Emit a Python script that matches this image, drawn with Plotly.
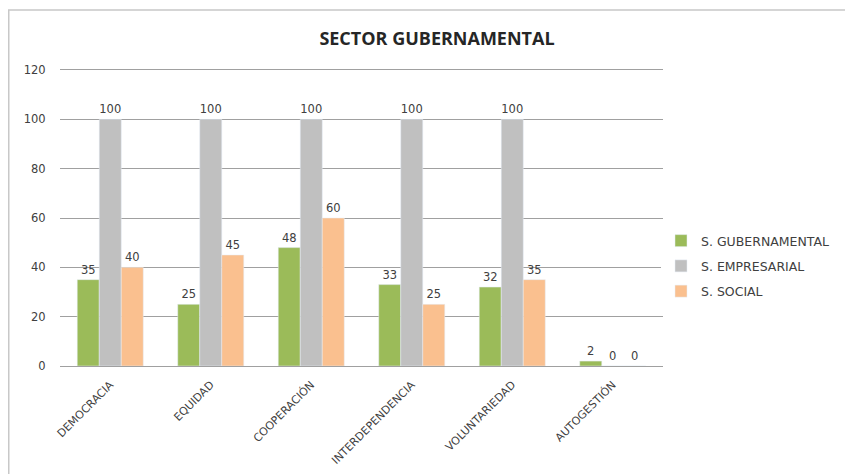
import plotly.graph_objects as go

categories = ["DEMOCRACIA", "EQUIDAD", "COOPERACIÓN", "INTERDEPENDENCIA", "VOLUNTARIEDAD", "AUTOGESTIÓN"]
s_gubernamental = [35, 25, 48, 33, 32, 2]
s_empresarial = [100, 100, 100, 100, 100, 0]
s_social = [40, 45, 60, 25, 35, 0]
series_names = ["S. GUBERNAMENTAL", "S. EMPRESARIAL", "S. SOCIAL"]
colors = ["#9BBB59", "#C0C0C0", "#FAC08F"]
y_ticks = [0, 20, 40, 60, 80, 100, 120]

FONT = "DejaVu Sans, sans-serif"
TXT = "#404040"

fig = go.Figure()
for i, (name, vals, col) in enumerate(zip(series_names, [s_gubernamental, s_empresarial, s_social], colors)):
    fig.add_trace(go.Bar(
        x=categories, y=vals, name=name, marker_color=col, legendgroup=f"g{i}",
        text=[str(v) for v in vals], textposition="outside", cliponaxis=False,
        textfont=dict(size=11.5, color=TXT, family=FONT),
    ))

# page body has an 8px margin; figure coordinates are window coordinates minus 8
W, H = 845, 466
L, R, T, B = 52, 655, 62, 358
pw, ph = R - L, B - T

fig.update_layout(
    width=W, height=H,
    margin=dict(l=L, r=W - R, t=T, b=H - B, autoexpand=False),
    paper_bgcolor="white", plot_bgcolor="white",
    font=dict(family=FONT, size=11.5, color=TXT),
    title=dict(text="<b>SECTOR GUBERNAMENTAL</b>", x=429 / W, xanchor="center",
               y=1 - 31 / H, yanchor="middle",
               font=dict(size=18, color="#262626", family="Open Sans, sans-serif")),
    barmode="group", bargap=0.343, bargroupgap=0,
    legend=dict(x=(653 - L) / pw, y=(B - 258) / ph, xanchor="left", yanchor="middle",
                font=dict(size=12.5, color=TXT, family=FONT), tracegroupgap=6,
                itemwidth=30),
    xaxis=dict(tickangle=-45, showline=True, linecolor="#A0A0A0", linewidth=1,
               mirror=True, ticks="outside", ticklen=7, tickcolor="rgba(0,0,0,0)",
               automargin=False,
               tickfont=dict(size=11, color=TXT, family=FONT)),
    yaxis=dict(range=[0, 120], tickvals=y_ticks, showgrid=True, gridcolor="#A0A0A0",
               gridwidth=1, zeroline=False, showline=False, automargin=False,
               ticks="outside", ticklen=11, tickcolor="rgba(0,0,0,0)",
               tickfont=dict(size=11.5, color=TXT, family=FONT)),
    shapes=[dict(type="rect", xref="paper", yref="paper",
                 x0=(0.75 - L) / pw, x1=(844 - L) / pw,
                 y0=(B - 470) / ph, y1=(B - 2) / ph,
                 line=dict(color="#C8C8C8", width=1.5), fillcolor="rgba(0,0,0,0)", layer="below")],
)

fig.write_html("out.html")
